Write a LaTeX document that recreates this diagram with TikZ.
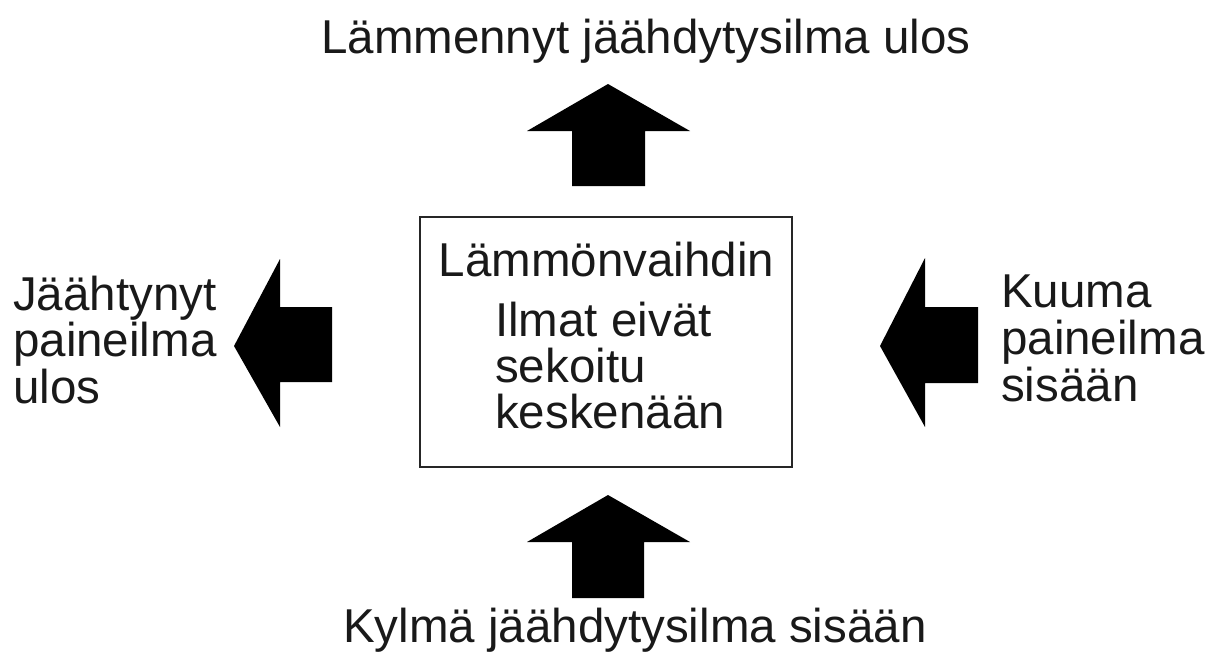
\documentclass[tikz,border=0pt]{standalone}
\usepackage{fontspec}
\setmainfont{Liberation Sans}
\begin{document}
\begin{tikzpicture}[x=1pt,y=-1pt,
  lbl/.style={inner sep=0pt, anchor=base west, font=\fontsize{47.5pt}{47pt}\selectfont, text=black!90},
  blk/.style={fill=black, draw=none}]
\useasboundingbox (0,0) rectangle (1209,653);
% box
\node[draw=black!85, line width=2.4pt, minimum width=372pt, minimum height=250pt, inner sep=0pt] (hx) at (606,342) {};
% box texts
\node[lbl, anchor=base] (t1) at (606.5,276) {Lämmönvaihdin};
\node[lbl] (t2) at (495,336) {Ilmat eivät};
\node[lbl] (t3) at (495,382) {sekoitu};
\node[lbl] (t4) at (495,428) {keskenään};
% titles
\node[lbl] (top) at (321,53) {Lämmennyt jäähdytysilma ulos};
\node[lbl] (bot) at (343,642) {Kylmä jäähdytysilma sisään};
% left text
\node[lbl] (l1) at (13,310) {Jäähtynyt};
\node[lbl] (l2) at (13,356.5) {paineilma};
\node[lbl] (l3) at (13,403) {ulos};
% right text
\node[lbl] (r1) at (1001,307) {Kuuma};
\node[lbl] (r2) at (1001,354) {paineilma};
\node[lbl] (r3) at (1001,401) {sisään};
% arrows
\fill[blk] (608,84) -- (690,131) -- (645,131) -- (645,186) -- (572,186) -- (572,131) -- (527,131) -- cycle;
\fill[blk] (608,495) -- (690,542) -- (644,542) -- (644,598) -- (572,598) -- (572,542) -- (527,542) -- cycle;
\fill[blk] (234,346) -- (280,259) -- (280,307) -- (332,307) -- (332,382) -- (280,382) -- (280,427) -- cycle;
\fill[blk] (880,346) -- (925,258) -- (925,307) -- (978,307) -- (978,383) -- (925,383) -- (925,427) -- cycle;
\end{tikzpicture}
\end{document}
